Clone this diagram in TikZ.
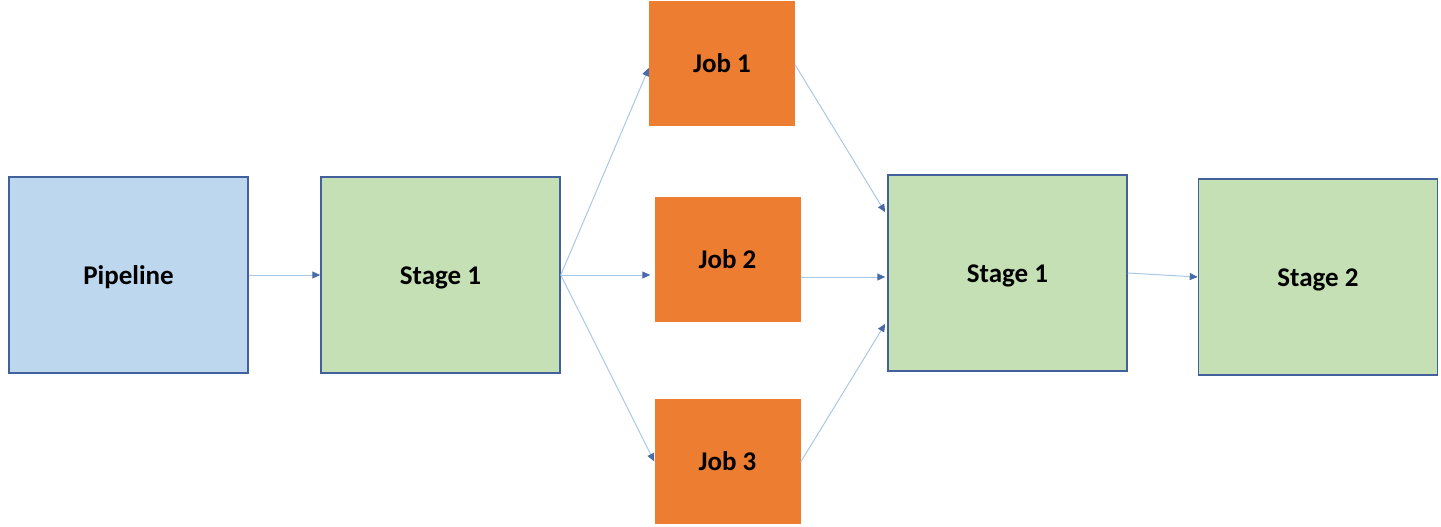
\documentclass[tikz,border=0pt]{standalone}
\usepackage{fontspec}
\setmainfont{Carlito}
\usetikzlibrary{arrows.meta}
\definecolor{pipefill}{HTML}{BDD7EE}
\definecolor{stagefill}{HTML}{C5E0B4}
\definecolor{jobfill}{HTML}{ED7D31}
\definecolor{boxline}{HTML}{41609C}
\definecolor{arrline}{HTML}{A9C8E8}
\definecolor{arrtip}{HTML}{4A6AA8}
\tikzset{
  label font/.style={font=\fontsize{27}{30}\selectfont\bfseries, text height=18pt, text depth=0pt},
  box/.style={draw=boxline, line width=1.5pt, minimum width=239pt, minimum height=196pt, inner sep=0pt, label font},
  pipebox/.style={box, fill=pipefill},
  stagebox/.style={box, fill=stagefill},
  jobbox/.style={fill=jobfill, draw=none, minimum width=146pt, minimum height=125pt, inner sep=0pt, label font},
  conn/.style={draw=arrline, line width=1pt, -{Triangle[length=8pt,width=7pt,color=arrtip]}}
}
\begin{document}
\begin{tikzpicture}[x=1pt,y=-1pt]
\useasboundingbox (0,0) rectangle (1441,527);
\node[pipebox] (pipe) at (128.5,275) {Pipeline};
\node[stagebox] (s1) at (440.5,275) {Stage 1};
\node[jobbox] (j1) at (722,63.5) {Job 1};
\node[jobbox] (j2) at (727.5,259) {Job 2};
\node[jobbox] (j3) at (727.5,461.5) {Job 3};
\node[stagebox] (s1b) at (1007.5,273) {Stage 1};
\node[stagebox] (s2) at (1318,277) {Stage 2};
\coordinate (s1o) at (s1.east);
\draw[conn] (pipe.east) -- (s1.west);
\draw[conn] (s1o) -- ([yshift=-4.5pt]j1.west);
\draw[conn] (s1o) -- ([xshift=-4pt,yshift=-16pt]j2.west);
\draw[conn] (s1o) -- (j3.west);
\draw[conn] ([yshift=-1.5pt]j1.east) -- ([xshift=-2pt,yshift=-38pt]s1b.north west);
\draw[conn] ([yshift=-18pt]j2.east) -- ([xshift=-2pt,yshift=-4pt]s1b.west);
\draw[conn] ([yshift=-0.5pt]j3.east) -- ([xshift=-2pt,yshift=48pt]s1b.south west);
\draw[conn] (s1b.east) -- (s2.west);
\end{tikzpicture}
\end{document}
